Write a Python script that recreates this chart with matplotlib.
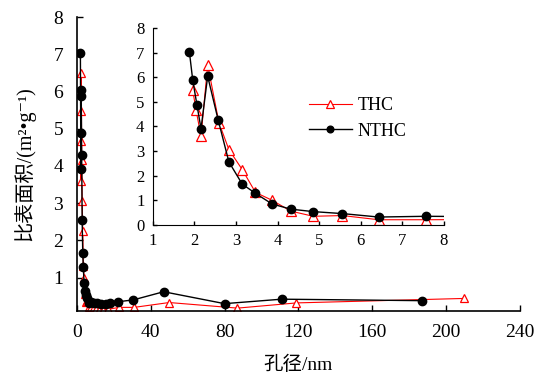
import matplotlib
matplotlib.use('Agg')
import matplotlib.pyplot as plt

plt.rcParams['font.family'] = ['Liberation Serif', 'Noto Sans CJK SC', 'DejaVu Sans']

# pore size (nm) and specific surface area (m2/g)
thc_x = [1.96, 2.04, 2.16, 2.32, 2.59, 2.83, 3.15, 3.47, 3.87, 4.32, 4.86, 5.56, 6.43, 7.57,
         9.0, 10.5, 12.0, 14.0, 17.0, 23.0, 31.0, 50.0, 87.0, 119.0, 210.0]
thc_y = [5.48, 4.67, 3.60, 6.50, 4.16, 3.06, 2.25, 1.32, 1.00, 0.56, 0.35, 0.38, 0.21, 0.21,
         0.22, 0.15, 0.12, 0.12, 0.15, 0.20, 0.20, 0.33, 0.18, 0.32, 0.44]

nthc_x = [1.88, 1.96, 2.06, 2.16, 2.32, 2.57, 2.83, 3.15, 3.47, 3.87, 4.32, 4.86, 5.56, 6.43, 7.57,
          9.5, 11.0, 13.0, 15.5, 18.0, 22.0, 30.5, 47.0, 80.0, 111.0, 187.0]
nthc_y = [7.03, 5.89, 4.89, 3.91, 6.04, 4.28, 2.56, 1.66, 1.28, 0.85, 0.64, 0.54, 0.46, 0.32, 0.35,
          0.33, 0.32, 0.30, 0.30, 0.31, 0.35, 0.40, 0.62, 0.30, 0.42, 0.38]

fig = plt.figure(figsize=(5.38, 3.78), dpi=100)

# main axes
ax = fig.add_axes([0.143, 0.177, 0.823, 0.778])
ax.plot(thc_x, thc_y, color='red', lw=0.8, marker='^', ms=6, mfc='white', mec='red', mew=0.9, label='THC')
ax.plot(nthc_x, nthc_y, color='black', lw=1.0, marker='o', ms=6, mfc='black', mec='black', label='NTHC')
ax.set_xlim(0, 240)
ax.set_ylim(0.1, 8)
ax.set_xticks([0, 40, 80, 120, 160, 200, 240])
ax.set_yticks([1, 2, 3, 4, 5, 6, 7, 8])
ax.tick_params(direction='in', labelsize=14, length=4, width=1)
ax.tick_params(axis='x', pad=9)
ax.tick_params(axis='y', pad=10)
for s in ['top', 'right']:
    ax.spines[s].set_visible(False)
for s in ['left', 'bottom']:
    ax.spines[s].set_linewidth(1.2)
ax.set_xlabel('孔径/nm', fontsize=14, labelpad=11)
ax.set_ylabel('比表面积/(m²•g⁻¹)', fontsize=14.5, labelpad=13)

# inset
ins = fig.add_axes([0.284, 0.405, 0.541, 0.521])
ins.plot(thc_x, thc_y, color='red', lw=0.8, marker='^', ms=6.5, mfc='white', mec='red', mew=0.9, label='THC')
ins.plot(nthc_x, nthc_y, color='black', lw=1.0, marker='o', ms=6, mfc='black', mec='black', label='NTHC')
ins.set_xlim(1, 8)
ins.set_ylim(0, 8)
ins.set_xticks(range(1, 9))
ins.set_yticks(range(0, 9))
ins.tick_params(direction='in', labelsize=12, length=3, width=1, pad=6)
for s in ['top', 'right']:
    ins.spines[s].set_visible(False)
ins.patch.set_alpha(0)
ins.legend(loc='upper left', bbox_to_anchor=(0.48, 0.73), frameon=False, fontsize=13,
           handlelength=2.4, handletextpad=0.3, labelspacing=0.45, markerscale=0.8)

fig.savefig('out.png', dpi=100)
